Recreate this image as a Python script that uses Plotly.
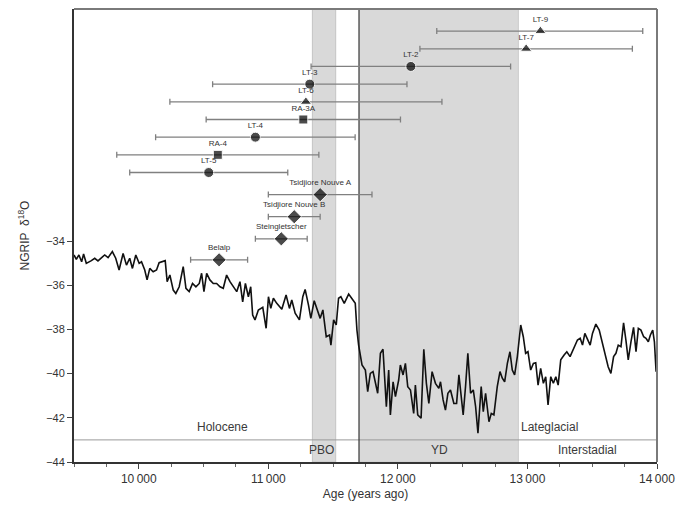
import plotly.graph_objects as go

# ---- NGRIP d18O record ----
ngrip_age = [9500, 9518, 9538, 9559, 9574, 9595, 9634, 9660, 9685, 9711, 9737, 9763, 9796, 9822, 9848,
             9879, 9905, 9930, 9951, 9977, 10003, 10021, 10046, 10064, 10085, 10111, 10137, 10157, 10183,
             10204, 10219, 10240, 10266, 10286, 10312, 10343, 10364, 10389, 10415, 10441, 10467, 10485,
             10503, 10524, 10549, 10575, 10601, 10627, 10652, 10678, 10704, 10730, 10756, 10781, 10802,
             10823, 10846, 10864, 10879, 10897, 10923, 10957, 10983, 11001, 11019, 11039, 11065, 11104,
             11137, 11163, 11181, 11207, 11240, 11266, 11284, 11310, 11328, 11354, 11375, 11400, 11421,
             11447, 11473, 11483, 11504, 11524, 11542, 11560, 11586, 11620, 11653, 11671, 11684, 11697,
             11723, 11749, 11767, 11787, 11808, 11826, 11844, 11865, 11885, 11911, 11929, 11942, 11963,
             11981, 12006, 12019, 12040, 12058, 12076, 12097, 12122, 12135, 12153, 12179, 12200, 12220,
             12239, 12264, 12290, 12316, 12329, 12349, 12367, 12386, 12406, 12432, 12453, 12471, 12504,
             12522, 12540, 12561, 12582, 12600, 12618, 12643, 12659, 12677, 12703, 12721, 12741, 12767,
             12788, 12806, 12824, 12845, 12865, 12883, 12901, 12922, 12948, 12968, 12986, 13004, 13025,
             13046, 13064, 13082, 13102, 13123, 13141, 13159, 13180, 13200, 13219, 13237, 13257, 13283,
             13304, 13329, 13355, 13386, 13407, 13425, 13443, 13464, 13484, 13502, 13528, 13554, 13580,
             13605, 13623, 13644, 13665, 13683, 13701, 13722, 13742, 13760, 13778, 13799, 13819, 13838,
             13856, 13876, 13897, 13915, 13933, 13949, 13967, 13980, 13993, 14000]
ngrip_d18o = [-34.63, -34.83, -34.63, -34.94, -34.59, -35.01, -34.89, -34.78, -34.90, -34.75, -34.63, -34.75,
              -34.48, -34.78, -35.31, -34.56, -35.09, -34.78, -35.24, -34.63, -35.01, -34.94, -35.31, -35.76,
              -35.24, -35.39, -35.31, -34.98, -34.94, -34.89, -35.84, -35.54, -36.22, -36.37, -36.07, -35.16,
              -36.14, -36.29, -35.92, -36.07, -35.92, -35.46, -36.29, -35.46, -35.76, -35.92, -35.92, -36.07,
              -36.14, -35.54, -35.84, -36.07, -36.29, -35.84, -36.75, -35.92, -36.52, -36.07, -37.35, -37.57,
              -37.12, -37.00, -37.95, -36.52, -37.05, -36.59, -36.82, -37.09, -36.44, -37.05, -36.67, -37.27,
              -37.57, -36.52, -36.19, -36.90, -37.50, -36.70, -37.12, -37.50, -37.12, -38.33, -38.25, -38.71,
              -37.57, -37.80, -36.59, -36.52, -36.82, -36.40, -36.67, -36.82, -38.03, -38.71, -39.61, -39.84,
              -40.82, -39.99, -39.91, -40.44, -40.89, -39.08, -38.90, -41.50, -39.84, -41.87, -40.37, -41.04,
              -40.29, -39.61, -40.06, -39.54, -40.59, -40.74, -41.80, -40.52, -41.87, -42.02, -38.90, -40.44,
              -41.35, -39.91, -40.44, -40.67, -40.37, -41.19, -41.65, -40.89, -40.74, -41.35, -41.35, -40.06,
              -41.87, -40.59, -39.08, -40.89, -40.74, -41.50, -42.70, -40.59, -41.72, -40.89, -42.18, -41.80,
              -41.87, -40.59, -39.91, -40.21, -40.37, -39.54, -39.01, -39.84, -40.06, -39.23, -37.80, -38.33,
              -39.08, -39.01, -39.84, -39.54, -39.51, -40.52, -39.76, -40.44, -40.14, -41.42, -40.14, -40.44,
              -40.14, -40.52, -39.38, -39.16, -39.01, -39.23, -38.86, -38.48, -38.40, -38.71, -38.18, -38.48,
              -38.71, -38.18, -37.76, -38.03, -38.63, -39.23, -39.69, -39.99, -39.23, -39.08, -38.71, -38.78,
              -37.70, -38.48, -39.38, -38.56, -37.91, -39.01, -37.95, -38.03, -38.33, -38.40, -38.56, -38.25,
              -38.03, -38.56, -39.91, -39.08]

# ---- Dated samples ----
sample_labels = ["LT-9", "LT-7", "LT-2", "LT-3", "LT-6", "RA-3A", "LT-4", "RA-4", "LT-5",
                 "Tsidjiore Nouve A", "Tsidjiore Nouve B", "Steingletscher", "Belalp"]
sample_age = [13100, 12990, 12100, 11320, 11290, 11270, 10900, 10610, 10540, 11400, 11200, 11100, 10620]
sample_min = [12300, 12170, 11330, 10570, 10240, 10520, 10130, 9830, 9930, 11000, 11000, 10900, 10400]
sample_max = [13890, 13810, 12870, 12070, 12340, 12020, 11670, 11390, 11150, 11800, 11400, 11300, 10840]
sample_y = [-24.5, -25.3, -26.1, -26.9, -27.7, -28.5, -29.3, -30.1, -30.9, -31.9, -32.9, -33.9, -34.85]
sample_symbol = ["triangle-up", "triangle-up", "circle", "circle", "triangle-up", "square", "circle",
                 "square", "circle", "diamond", "diamond", "diamond", "diamond"]

# ---- Periods ----
pbo_span = [11340, 11520]
yd_span = [11700, 12930]
holocene_boundary = 11700
x_tickvals = [10000, 11000, 12000, 13000, 14000]
x_ticktext = ["10\u2009000", "11\u2009000", "12\u2009000", "13\u2009000", "14\u2009000"]
y_tickvals = [-44, -42, -40, -38, -36, -34]
y_ticktext = ["\u221244", "\u221242", "\u221240", "\u221238", "\u221236", "\u221234"]

size_map = {"triangle-up": 10, "circle": 10, "square": 9, "diamond": 11}

fig = go.Figure()

fig.add_trace(go.Scatter(
    x=ngrip_age, y=ngrip_d18o, mode="lines",
    line=dict(color="#111111", width=1.6), hoverinfo="skip", showlegend=False))

fig.add_trace(go.Scatter(
    x=sample_age, y=sample_y, mode="markers+text",
    text=sample_labels, textposition="top center",
    textfont=dict(size=8, color="#333333", family="Liberation Sans, Arial, sans-serif"),
    marker=dict(symbol=sample_symbol, size=[size_map[s] for s in sample_symbol], color="black"),
    error_x=dict(type="data", symmetric=False,
                 array=[h - a for h, a in zip(sample_max, sample_age)],
                 arrayminus=[a - l for a, l in zip(sample_age, sample_min)],
                 color="#808080", thickness=1.3, width=3),
    showlegend=False))

shapes = [
    dict(type="rect", xref="x", yref="paper", x0=pbo_span[0], x1=pbo_span[1], y0=0, y1=1,
         fillcolor="#d9d9d9", line=dict(color="#c4c4c4", width=1), layer="below"),
    dict(type="rect", xref="x", yref="paper", x0=yd_span[0], x1=yd_span[1], y0=0, y1=1,
         fillcolor="#d9d9d9", line=dict(color="#cccccc", width=1), layer="below"),
    dict(type="line", xref="paper", yref="y", x0=0, x1=1, y0=-43, y1=-43,
         line=dict(color="#9a9a9a", width=1), layer="below"),
    dict(type="line", xref="x", yref="paper", x0=holocene_boundary, x1=holocene_boundary, y0=0, y1=1,
         line=dict(color="#222222", width=1), layer="below"),
    # top and right frame (lighter grey than the axes)
    dict(type="line", xref="paper", yref="paper", x0=0, x1=1, y0=1, y1=1,
         line=dict(color="#7a7a7a", width=2)),
    dict(type="line", xref="paper", yref="paper", x0=1, x1=1, y0=0, y1=1,
         line=dict(color="#7a7a7a", width=2)),
]

ann_font = dict(size=12, color="#3a3a3a", family="Liberation Sans, Arial, sans-serif")
annotations = [
    dict(x=10647, y=-42.42, text="Holocene", showarrow=False, font=ann_font),
    dict(x=13174, y=-42.42, text="Lateglacial", showarrow=False, font=ann_font),
    dict(x=11407, y=-43.46, text="PBO", showarrow=False, font=ann_font),
    dict(x=12322, y=-43.46, text="YD", showarrow=False, font=ann_font),
    dict(x=13461, y=-43.46, text="Interstadial", showarrow=False, font=ann_font),
]

fig.update_layout(
    width=677, height=506,
    margin=dict(l=74, r=20, t=9, b=44, autoexpand=False),
    paper_bgcolor="white", plot_bgcolor="white",
    font=dict(family="Liberation Sans, Arial, sans-serif", size=11, color="#333333"),
    shapes=shapes, annotations=annotations,
    xaxis=dict(range=[9500, 14000], tickmode="array", tickvals=x_tickvals, ticktext=x_ticktext,
               automargin=False,
               ticks="outside", ticklen=5, tickcolor="#444444", tickwidth=1,
               minor=dict(tickmode="linear", tick0=9500, dtick=250, ticks="outside", ticklen=3,
                          tickcolor="#666666", tickwidth=1),
               showline=True, linecolor="#333333", linewidth=2, mirror=False,
               showgrid=False, zeroline=False,
               tickfont=dict(size=12, color="#333333"),
               title=dict(text="Age (years ago)", font=dict(size=12, color="#333333"), standoff=4)),
    yaxis=dict(range=[-44, -23.5], tickmode="array", tickvals=y_tickvals, ticktext=y_ticktext,
               automargin=False,
               ticks="outside", ticklen=5, tickcolor="#444444", tickwidth=1,
               showline=True, linecolor="#333333", linewidth=2, mirror=False,
               showgrid=False, zeroline=False,
               tickfont=dict(size=11, color="#333333"),
               title=dict(text="NGRIP  \u03b4<sup>18</sup>O", font=dict(size=12, color="#333333"), standoff=14)),
)

fig.write_html("out.html")
